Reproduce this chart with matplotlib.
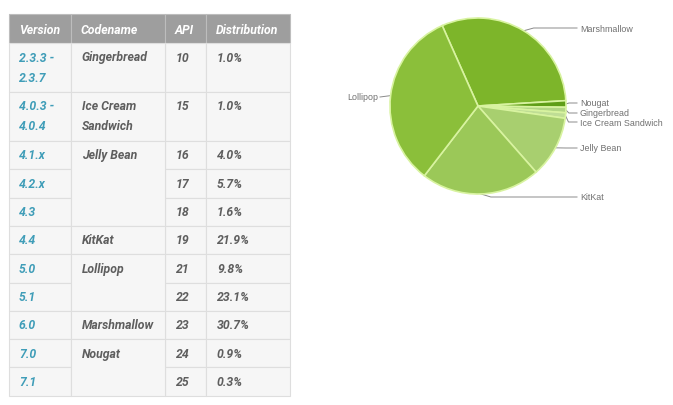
import numpy as np
import matplotlib.pyplot as plt
from matplotlib.patches import Rectangle

# table data
versions = ['2.3.3 -\n2.3.7', '4.0.3 -\n4.0.4', '4.1.x', '4.2.x', '4.3', '4.4',
            '5.0', '5.1', '6.0', '7.0', '7.1']
apis = ['10', '15', '16', '17', '18', '19', '21', '22', '23', '24', '25']
distribution = ['1.0%', '1.0%', '4.0%', '5.7%', '1.6%', '21.9%', '9.8%',
                '23.1%', '30.7%', '0.9%', '0.3%']
codenames = ['Gingerbread', 'Ice Cream\nSandwich', 'Jelly Bean', 'KitKat',
             'Lollipop', 'Marshmallow', 'Nougat']
codename_spans = [1, 1, 3, 1, 2, 1, 2]
headers = ['Version', 'Codename', 'API', 'Distribution']

# pie data (clockwise from top left)
pie_labels = ['Marshmallow', 'Nougat', 'Gingerbread', 'Ice Cream Sandwich',
              'Jelly Bean', 'KitKat', 'Lollipop']
pie_values = [30.7, 1.2, 1.0, 1.0, 11.3, 21.9, 32.9]
pie_colors = ['#7db52a', '#5f9e17', '#b2d684', '#bfdd95', '#a8cf6f',
              '#9bc858', '#8bbf3a']

W, H = 673, 406
fig = plt.figure(figsize=(W / 100, H / 100), dpi=100)
ax = fig.add_axes([0, 0, 1, 1])
ax.set_xlim(0, W)
ax.set_ylim(H, 0)
ax.axis('off')

font = 'Roboto'
col_x = [9, 71, 165, 206, 290]
header_top, header_bot = 15, 44
row_h = [49, 49] + [28.3] * 9

# header
for i, name in enumerate(headers):
    ax.add_patch(Rectangle((col_x[i], header_top), col_x[i + 1] - col_x[i],
                           header_bot - header_top, facecolor='#9e9e9e',
                           edgecolor='#bdbdbd', lw=0.8))
    ax.text(col_x[i] + 10, (header_top + header_bot) / 2 + 1, name,
            color='white', fontsize=8.8, fontweight='bold', style='italic',
            family=font, va='center', ha='left')

# row tops
tops = [header_bot]
for h in row_h:
    tops.append(tops[-1] + h)

cell_bg = '#f6f6f6'
line_c = '#dedede'
body_c = '#5e5e5e'

# version, api, distribution cells
for r in range(len(versions)):
    y0, y1 = tops[r], tops[r + 1]
    for c in (0, 2, 3):
        ax.add_patch(Rectangle((col_x[c], y0), col_x[c + 1] - col_x[c], y1 - y0,
                               facecolor=cell_bg, edgecolor=line_c, lw=0.8))
    txt = versions[r].split('\n')
    for k, t in enumerate(txt):
        ax.text(col_x[0] + 10, y0 + 14 + 20 * k, t, color='#3f9db8',
                fontsize=8.8, style='italic', fontweight='bold', family=font,
                va='center')
    ax.text(col_x[2] + 11, y0 + 14, apis[r], color=body_c, fontsize=8.8,
            style='italic', fontweight='bold', family=font, va='center')
    ax.text(col_x[3] + 11, y0 + 14, distribution[r], color=body_c,
            fontsize=8.8, style='italic', fontweight='bold', family=font,
            va='center')

# codename cells (merged)
r = 0
for name, span in zip(codenames, codename_spans):
    y0, y1 = tops[r], tops[r + span]
    ax.add_patch(Rectangle((col_x[1], y0), col_x[2] - col_x[1], y1 - y0,
                           facecolor=cell_bg, edgecolor=line_c, lw=0.8))
    for k, t in enumerate(name.split('\n')):
        ax.text(col_x[1] + 11, y0 + 14 + 20 * k, t, color=body_c,
                fontsize=8.8, style='italic', fontweight='bold', family=font,
                va='center')
    r += span

# pie chart
cx, cy, rad = 478, 107, 88
pax = fig.add_axes([(cx - rad) / W, (H - cy - rad) / H, 2 * rad / W, 2 * rad / H])
start = 114
pax.pie(pie_values, colors=pie_colors, startangle=start, counterclock=False,
        wedgeprops=dict(edgecolor='#d8f3a0', linewidth=1.2))
pax.set_xlim(-1, 1)
pax.set_ylim(-1, 1)
pax.set_aspect('auto')

label_pos = {
    'Marshmallow': (580, 29),
    'Nougat': (580, 104),
    'Gingerbread': (580, 114),
    'Ice Cream Sandwich': (580, 123),
    'Jelly Bean': (580, 149),
    'KitKat': (580, 198),
    'Lollipop': (378, 98),
}

total = sum(pie_values)
ang = start
for name, v in zip(pie_labels, pie_values):
    span = 360 * v / total
    mid = np.radians(ang - span / 2)
    ang -= span
    ex = cx + rad * np.cos(mid)
    ey = cy - rad * np.sin(mid)
    lx, ly = label_pos[name]
    if lx > cx:
        elbow = max(ex + 3, min(lx - 14, ex + 10))
        ax.plot([ex, elbow, lx - 3], [ey, ly, ly], color='#8a8a8a', lw=0.7)
        ax.text(lx, ly, name, color='#707070', fontsize=6.4,
                family='Liberation Sans', va='center', ha='left')
    else:
        ax.plot([ex, lx + 2], [ey, ly], color='#8a8a8a', lw=0.7)
        ax.text(lx, ly, name, color='#707070', fontsize=6.4,
                family='Liberation Sans', va='center', ha='right')

fig.savefig('out.png', dpi=100, facecolor='white')
